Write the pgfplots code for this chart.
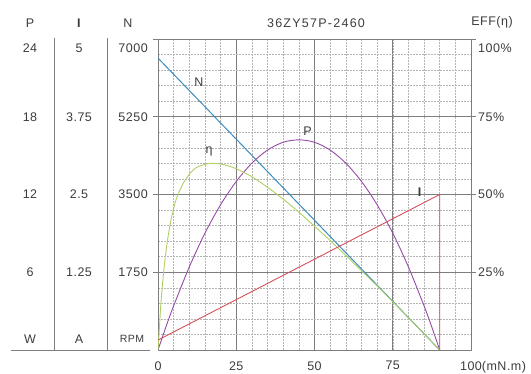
\documentclass[border=0pt]{standalone}
\usepackage{fontspec}
\setmainfont[LetterSpace=4]{Liberation Sans}
\newfontfamily\titlefont[LetterSpace=10]{Liberation Sans}
\usepackage{pgfplots}
\usepackage{pgfplotstable}
\pgfplotsset{compat=1.18}
\definecolor{cN}{RGB}{60,140,190}
\definecolor{cP}{RGB}{150,75,165}
\definecolor{cE}{RGB}{175,208,100}
\definecolor{cI}{RGB}{214,80,92}
\definecolor{gridM}{RGB}{125,125,125}
\definecolor{gridm}{RGB}{180,180,180}
\definecolor{txt}{RGB}{60,60,60}

% speed N (RPM) vs torque (mN.m)
\pgfplotstableread{
t n
0 6570
90 0
}\Ndata
% current I (A)
\pgfplotstableread{
t i
0 0.16
90 2.5
90 0
}\Idata
% output power P (W)
\pgfplotstableread{
t p
0 0
2.5 1.76
5 3.41
10 6.41
15 9.02
20 11.21
25 13.01
30 14.42
35 15.43
40 16.03
45 16.22
50 16.03
55 15.43
60 14.42
65 13.01
70 11.21
75 9.02
80 6.41
85 3.41
87.5 1.76
90 0
}\Pdata
% efficiency (%)
\pgfplotstableread{
t e
0 0
0.5 8
1 16
2 27
3 35
4 41
5 45.5
6 49
8 53.5
10 56.5
12 58.5
15 59.7
18 60
21 59.6
25 58.3
30 55.7
35 52.3
40 48.5
45 44.3
50 39.8
55 35.2
60 30.4
65 25.5
70 20.6
75 15.5
80 10.4
85 5.2
90 0
}\Edata

\begin{document}
\fontsize{12.5}{14}\selectfont
\color{txt}
\begin{tikzpicture}[x=1pt,y=1pt]
\useasboundingbox (0,0) rectangle (531,374);
\begin{axis}[
  at={(158pt,24pt)}, anchor=south west,
  scale only axis, width=313pt, height=311pt,
  xmin=0, xmax=100, ymin=0, ymax=100,
  xtick={0,25,50,75,100},
  xticklabels={0,25,50,75,{100\rlap{(mN.m)}}},
  minor xtick={5,10,...,95},
  ytick={25,50,75,100},
  yticklabels={},
  minor ytick={5,10,...,95},
  grid=both,
  major grid style={draw=gridM, line width=0.7pt},
  minor grid style={draw=gridm, line width=0.5pt, dash pattern=on 2pt off 1pt},
  axis line style={draw=gridM, line width=0.8pt},
  tick align=outside,
  ytick pos=both,
  xtick pos=bottom,
  major tick length=5pt,
  minor tick length=0pt,
  xtick style={draw=none},
  ytick style={draw=gridM, line width=0.7pt},
  xticklabel style={yshift=-2pt, text=txt},
  tick label style={font=\fontsize{12.5}{14}\selectfont},
  line join=round,
]
\addplot[cN, line width=1pt] table[x=t, y expr=\thisrow{n}/70] {\Ndata};
\addplot[cP, line width=0.9pt, smooth] table[x=t, y expr=\thisrow{p}*100/24] {\Pdata};
\addplot[cE, line width=0.9pt, smooth] table[x=t, y=e] {\Edata};
\addplot[cI, line width=0.9pt] table[x=t, y expr=\thisrow{i}*20] {\Idata};
\node[text=txt] at (axis cs:13.1,86) {N};
\node[text=txt] at (axis cs:47.8,70.5) {P};
\node[text=txt] at (axis cs:16.3,64) {η};
\node[text=txt] at (axis cs:83.7,50.8) {\textbf{I}};
\end{axis}
% left scale columns
\draw[gridM, line width=0.8pt] (11,24) -- (150,24);
\draw[gridM, line width=0.8pt] (54,336) -- (54,24);
\draw[gridM, line width=0.8pt] (107,336) -- (107,24);
\node at (30,351) {P};
\node at (79,351) {\textbf{I}};
\node at (128,351) {N};
\foreach \yy/\p/\i/\n in {326/24/5/7000, 257/18/3.75/5250, 179.5/12/2.5/3500, 102/6/1.25/1750}{
  \node at (30,\yy) {\p};
  \node at (79,\yy) {\i};
  \node[anchor=east, inner sep=0pt] at (148,\yy) {\n};
}
\node at (30,35) {W};
\node at (79,35) {A};
\node[font=\fontsize{10.5}{12}\selectfont] at (132,35) {RPM};
% right scale
\foreach \yy/\e in {326/100, 257/75, 179.5/50, 102/25}{
  \node[anchor=west, inner sep=0pt] at (478,\yy) {\e\%};
}
\node at (492,352) {EFF(η)};
\node at (316,351) {\titlefont 36ZY57P-2460};
\end{tikzpicture}
\end{document}
